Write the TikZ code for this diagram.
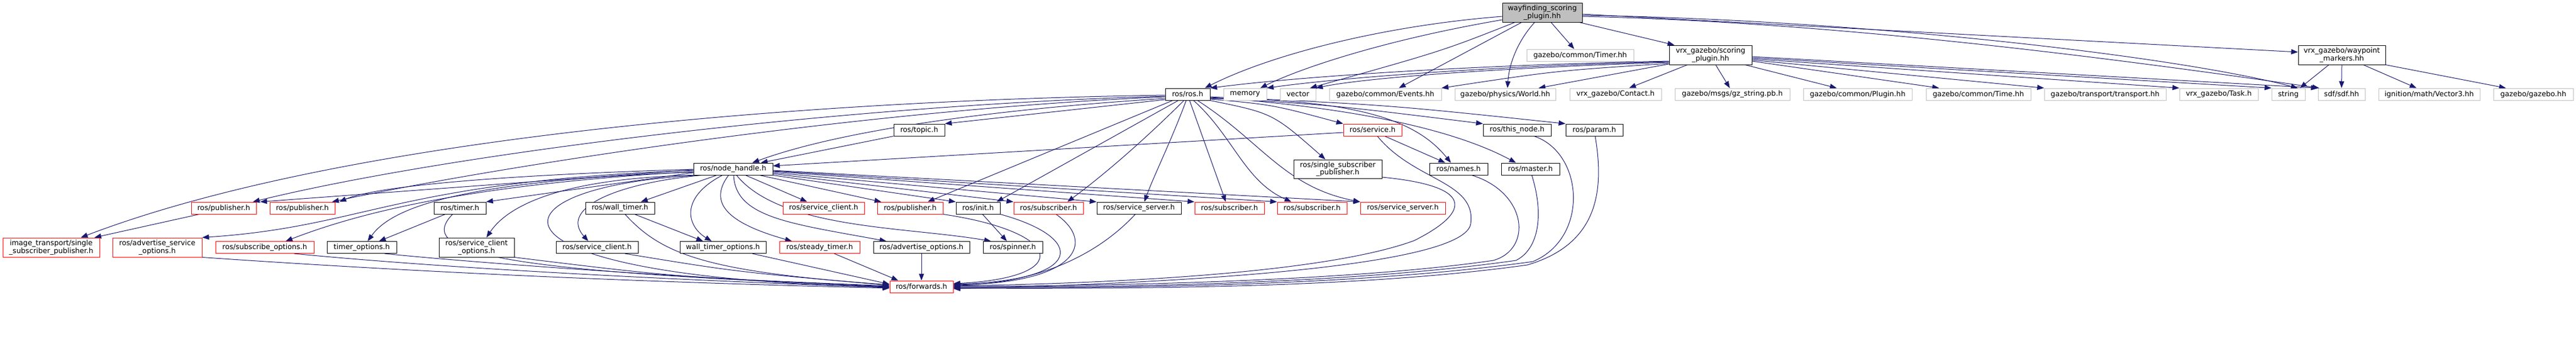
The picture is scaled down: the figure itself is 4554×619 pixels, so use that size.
\documentclass[tikz,border=0pt]{standalone}
\usepackage{fontspec}
\setmainfont{DejaVu Sans}
\usetikzlibrary{arrows.meta}
\pgfdeclarelayer{bg}
\pgfsetlayers{bg,main}
\definecolor{mblue}{HTML}{191970}
\definecolor{gsev}{HTML}{BFBFBF}
\newcommand\dxfont{\fontsize{12.7}{12.5}\selectfont}
\tikzset{
  box/.style={draw=black, line width=1pt, fill=white, inner sep=0pt, font=\dxfont, align=center, text=black},
  ext/.style={box, draw=gsev},
  trunc/.style={box, draw=red},
  root/.style={box, fill=gsev, draw=black},
  sz/.style 2 args={minimum width=#1pt, minimum height=#2pt},
  dep/.style={draw=mblue, line width=1pt, -{Triangle[length=12pt,width=9pt]}}
}
\begin{document}
\begin{tikzpicture}[x=1pt,y=-1pt]
\useasboundingbox (0,0) rectangle (4554,619);
% ---- nodes
\node[root,sz={141}{34}] (W) at (2726.5,22) {wayfinding\_scoring\\\_plugin.hh};
\node[ext,sz={189}{21}] (timerhh) at (2793.5,97.5) {gazebo/common/Timer.hh};
\node[box,sz={146}{34}] (S) at (3024,97) {vrx\_gazebo/scoring\\\_plugin.hh};
\node[box,sz={154}{34}] (M) at (4140,97) {vrx\_gazebo/waypoint\\\_markers.hh};
\node[box,sz={79}{21}] (R) at (2099.5,166.5) {ros/ros.h};
\node[ext,sz={76}{21}] (memory) at (2201,166.5) {memory};
\node[ext,sz={63}{21}] (vector) at (2294.5,166.5) {vector};
\node[ext,sz={198}{21}] (events) at (2449,166.5) {gazebo/common/Events.hh};
\node[ext,sz={178}{21}] (world) at (2661,166.5) {gazebo/physics/World.hh};
\node[ext,sz={162}{21}] (contact) at (2856,166.5) {vrx\_gazebo/Contact.h};
\node[ext,sz={203}{21}] (gzstring) at (3062.5,166.5) {gazebo/msgs/gz\_string.pb.h};
\node[ext,sz={192}{21}] (plugin) at (3284,166.5) {gazebo/common/Plugin.hh};
\node[ext,sz={185}{21}] (gztime) at (3497.5,166.5) {gazebo/common/Time.hh};
\node[ext,sz={215}{21}] (transport) at (3721.5,166.5) {gazebo/transport/transport.hh};
\node[ext,sz={139}{21}] (task) at (3922.5,166.5) {vrx\_gazebo/Task.h};
\node[ext,sz={59}{21}] (string) at (4045.5,166.5) {string};
\node[ext,sz={83}{21}] (sdf) at (4139.5,166.5) {sdf/sdf.hh};
\node[ext,sz={179}{21}] (vector3) at (4294.5,166.5) {ignition/math/Vector3.hh};
\node[ext,sz={141}{21}] (gazebohh) at (4478.5,166.5) {gazebo/gazebo.hh};
\node[box,sz={90}{21}] (topic) at (1625,229.5) {ros/topic.h};
\node[trunc,sz={103}{21}] (service) at (2426.5,229.5) {ros/service.h};
\node[box,sz={120}{21}] (thisnode) at (2682,229.5) {ros/this\_node.h};
\node[box,sz={101}{21}] (param) at (2818.5,229.5) {ros/param.h};
\node[box,sz={140}{21}] (N) at (1296,298.5) {ros/node\_handle.h};
\node[box,sz={156}{33}] (ssp) at (2365,298.5) {ros/single\_subscriber\\\_publisher.h};
\node[box,sz={103}{21}] (names) at (2578.5,298.5) {ros/names.h};
\node[box,sz={103}{21}] (master) at (2705.5,298.5) {ros/master.h};
\node[trunc,sz={115}{21}] (pubA) at (395.5,367.5) {ros/publisher.h};
\node[trunc,sz={115}{21}] (pubB) at (534.5,367.5) {ros/publisher.h};
\node[box,sz={92}{21}] (timer) at (813,367.5) {ros/timer.h};
\node[box,sz={122}{21}] (walltimer) at (1096,367.5) {ros/wall\_timer.h};
\node[trunc,sz={144}{21}] (svcclientR) at (1456,367.5) {ros/service\_client.h};
\node[trunc,sz={116}{21}] (pubC) at (1609,367.5) {ros/publisher.h};
\node[box,sz={78}{21}] (init) at (1729,367.5) {ros/init.h};
\node[trunc,sz={123}{21}] (subA) at (1853.5,367.5) {ros/subscriber.h};
\node[box,sz={149}{21}] (svcserver) at (2013.5,367.5) {ros/service\_server.h};
\node[trunc,sz={123}{21}] (subB) at (2173.5,367.5) {ros/subscriber.h};
\node[trunc,sz={123}{21}] (subC) at (2319.5,367.5) {ros/subscriber.h};
\node[trunc,sz={150}{21}] (svcserverR) at (2480,367.5) {ros/service\_server.h};
\node[trunc,sz={171}{34}] (imgtr) at (90.5,437) {image\_transport/single\\\_subscriber\_publisher.h};
\node[trunc,sz={158}{34}] (aso) at (278,437) {ros/advertise\_service\\\_options.h};
\node[trunc,sz={174}{21}] (subopt) at (468,437) {ros/subscribe\_options.h};
\node[box,sz={123}{21}] (timeropt) at (639.5,437) {timer\_options.h};
\node[box,sz={133}{34}] (sco) at (842.5,437) {ros/service\_client\\\_options.h};
\node[box,sz={145}{21}] (svcclient) at (1055.5,437) {ros/service\_client.h};
\node[box,sz={152}{21}] (wto) at (1278,437) {wall\_timer\_options.h};
\node[trunc,sz={142}{21}] (steady) at (1449,437) {ros/steady\_timer.h};
\node[box,sz={170}{21}] (advopt) at (1629,437) {ros/advertise\_options.h};
\node[box,sz={105}{21}] (spinner) at (1790.5,437) {ros/spinner.h};
\node[trunc,sz={112}{21}] (fwd) at (1629,506.5) {ros/forwards.h};
% ---- edges
\begin{pgfonlayer}{bg}
% wayfinding
\draw[dep] (W.west |- 0,29) .. controls (2450,45) and (2250,95) .. (R.north -| 2130,0);
\draw[dep] (W.west |- 0,35) .. controls (2450,70) and (2300,120) .. (memory.north -| 2228,0);
\draw[dep] (W.south -| 2678,0) .. controls (2550,90) .. (vector.north -| 2316,0);
\draw[dep] (W.south -| 2690,0) -- (events.north -| 2473,0);
\draw[dep] (W.south -| 2713,0) .. controls (2685,70) and (2668,110) .. (world.north -| 2665,0);
\draw[dep] (W.south -| 2742,0) -- (timerhh.north -| 2783,0);
\draw[dep] (W.south -| 2792,0) -- (S.north -| 2960,0);
\draw[dep] (W.east |- 0,25) -- (M.west |- 0,92);
\draw[dep] (W.east |- 0,27) .. controls (3300,35) and (3850,100) .. (string.north -| 4062,0);
\draw[dep] (W.east |- 0,29) .. controls (3300,40) and (3850,120) .. (sdf.north -| 4100,0);
% scoring plugin
\draw[dep] (S.west |- 0,108) .. controls (2600,115) and (2300,135) .. (R.north east);
\draw[dep] (S.west |- 0,109) .. controls (2600,118) and (2350,140) .. (memory.north east);
\draw[dep] (S.west |- 0,110) .. controls (2600,122) and (2400,140) .. (vector.north east);
\draw[dep] (S.west |- 0,112) .. controls (2750,125) .. (events.north east);
\draw[dep] (S.west |- 0,113) -- (world.north -| 2720,0);
\draw[dep] (S.south -| 2983,0) -- (contact.north -| 2880,0);
\draw[dep] (S.south -| 3033,0) -- (gzstring.north -| 3058,0);
\draw[dep] (S.south -| 3085,0) -- (plugin.north -| 3247,0);
\draw[dep] (S.east |- 0,108) -- (gztime.north -| 3428,0);
\draw[dep] (S.east |- 0,106) -- (transport.north west);
\draw[dep] (S.east |- 0,104) -- (task.north west);
\draw[dep] (S.east |- 0,102) -- (string.north west);
\draw[dep] (S.east |- 0,100) -- (sdf.north west);
% waypoint markers
\draw[dep] (M.south -| 4117,0) -- (string.north -| 4066,0);
\draw[dep] (M.south) -- (sdf.north);
\draw[dep] (M.south -| 4178,0) -- (vector3.north -| 4272,0);
\draw[dep] (M.south east) -- (gazebohh.north -| 4430,0);
% ros.h
\draw[dep] (R.west |- 0,168) .. controls (1400,178) and (600,245) .. (imgtr.north -| 143,0);
\draw[dep] (R.west |- 0,170) .. controls (1500,185) and (800,270) .. (pubA.north -| 447,0);
\draw[dep] (R.west |- 0,171) .. controls (1500,195) and (850,300) .. (pubB.north -| 587,0);
\draw[dep] (R.west |- 0,174) .. controls (1800,190) and (1500,225) .. (N.north -| 1330,0);
\draw[dep] (R.west |- 0,176) -- (topic.north east);
\draw[dep] (R.south -| 2073,0) -- (pubC.north -| 1640,0);
\draw[dep] (R.south -| 2083,0) -- (init.north -| 1762,0);
\draw[dep] (R.south -| 2093,0) .. controls (2020,250) and (1950,310) .. (subA.north -| 1887,0);
\draw[dep] (R.south -| 2097,0) .. controls (2070,250) and (2040,310) .. (svcserver.north -| 2023,0);
\draw[dep] (R.south -| 2103,0) -- (subB.north -| 2167,0);
\draw[dep] (R.south -| 2110,0) .. controls (2180,240) and (2200,320) .. (subC.north -| 2283,0);
\draw[dep] (R.south -| 2117,0) .. controls (2230,250) and (2270,330) .. (svcserverR.north west);
\draw[dep] (R.south east) .. controls (2250,200) .. (ssp.north -| 2343,0);
\draw[dep] (R.east |- 0,175) .. controls (2250,185) .. (service.north west);
\draw[dep] (R.east |- 0,174) .. controls (2420,175) and (2510,220) .. (names.north -| 2565,0);
\draw[dep] (R.east |- 0,173) .. controls (2350,185) .. (thisnode.north west);
\draw[dep] (R.east |- 0,172) .. controls (2470,195) and (2610,250) .. (master.north -| 2680,0);
\draw[dep] (R.east |- 0,171) .. controls (2450,185) .. (param.north west);
% service.h, topic.h
\draw[dep] (service.west |- 0,234) -- (N.east |- 0,293);
\draw[dep] (service.south -| 2448,0) -- (names.north -| 2555,0);
\draw[dep] (topic.south west) -- (N.north -| 1345,0);
% node_handle.h to the left
\draw[dep] (N.west |- 0,300) -- (pubA.north -| 460,0);
\draw[dep] (N.west |- 0,299) .. controls (800,312) and (650,335) .. (pubB.north -| 600,0);
\draw[dep] (N.west |- 0,301) .. controls (700,320) and (650,400) .. (aso.north east);
\draw[dep] (N.west |- 0,303) .. controls (850,325) and (650,370) .. (subopt.north -| 505,0);
\draw[dep] (N.west |- 0,304) .. controls (800,320) and (690,370) .. (timeropt.north -| 650,0);
\draw[dep] (N.west |- 0,305) -- (timer.north east);
\draw[dep] (N.south west) .. controls (1000,315) and (900,360) .. (sco.north -| 860,0);
\draw[dep] (N.south -| 1240,0) .. controls (1080,325) and (990,370) .. (svcclient.north -| 1040,0);
\draw[dep] (N.south -| 1235,0) .. controls (850,330) and (820,490) .. (fwd.west |- 0,507);
\draw[dep] (N.south -| 1267,0) -- (walltimer.north -| 1133,0);
\draw[dep] (N.south -| 1277,0) .. controls (1200,350) and (1215,400) .. (wto.north -| 1258,0);
\draw[dep] (N.south -| 1288,0) .. controls (1250,360) and (1290,395) .. (steady.north -| 1400,0);
\draw[dep] (N.south -| 1318,0) -- (svcclientR.north -| 1427,0);
\draw[dep] (N.south -| 1297,0) .. controls (1300,385) and (1400,395) .. (advopt.north -| 1567,0);
\draw[dep] (N.south -| 1302,0) .. controls (1380,405) and (1600,400) .. (spinner.north -| 1752,0);
\draw[dep] (N.south -| 1343,0) -- (pubC.north -| 1558,0);
% node_handle.h to the right
\draw[dep] (N.south east) -- (init.north west);
\draw[dep] (N.east |- 0,307) -- (subA.north west);
\draw[dep] (N.east |- 0,305) -- (svcserver.north west);
\draw[dep] (N.east |- 0,303) -- (subB.north west);
\draw[dep] (N.east |- 0,302) -- (subC.north west);
\draw[dep] (N.east |- 0,301) -- (svcserverR.north west);
% lower left
\draw[dep] (pubA.south -| 352,0) -- (imgtr.north -| 167,0);
\draw[dep] (timer.south -| 787,0) -- (timeropt.north -| 670,0);
\draw[dep] (walltimer.south -| 1122,0) -- (wto.north -| 1243,0);
\draw[dep] (init.south -| 1737,0) -- (spinner.north -| 1780,0);
% into forwards.h from the left
\draw[dep] (aso.south east) .. controls (800,485) and (1200,500) .. (fwd.west |- 0,509);
\draw[dep] (subopt.south -| 520,0) .. controls (800,475) and (1200,495) .. (fwd.west |- 0,508);
\draw[dep] (timeropt.south -| 680,0) .. controls (900,470) and (1300,495) .. (fwd.west |- 0,507);
\draw[dep] (timer.south -| 800,0) .. controls (730,450) and (900,480) .. (fwd.west |- 0,506);
\draw[dep] (sco.south east) .. controls (1200,490) .. (fwd.west |- 0,505);
\draw[dep] (svcclient.south -| 1105,0) .. controls (1300,480) .. (fwd.west |- 0,504);
\draw[dep] (walltimer.south -| 1105,0) .. controls (1170,450) and (1250,480) .. (fwd.west |- 0,503);
\draw[dep] (wto.south -| 1330,0) -- (fwd.west |- 0,502);
\draw[dep] (steady.south -| 1475,0) -- (fwd.north -| 1588,0);
\draw[dep] (advopt.south) -- (fwd.north);
% into forwards.h from the right
\draw[dep] (pubC.south east) .. controls (1880,410) and (1900,490) .. (fwd.east |- 0,501);
\draw[dep] (init.south east) .. controls (1920,420) and (1920,495) .. (fwd.east |- 0,502);
\draw[dep] (subA.south -| 1867,0) .. controls (1940,430) and (1900,500) .. (fwd.east |- 0,503);
\draw[dep] (svcserver.south -| 2007,0) .. controls (1950,440) and (1850,500) .. (fwd.east |- 0,504);
\draw[dep] (ssp.east |- 0,313) .. controls (2620,330) and (2590,380) .. (2500,425) .. controls (2350,480) and (2000,500) .. (fwd.east |- 0,505);
\draw[dep] (names.south -| 2602,0) .. controls (2700,340) and (2710,440) .. (2640,460) .. controls (2400,495) and (2000,505) .. (fwd.east |- 0,506);
\draw[dep] (master.south -| 2708,0) .. controls (2730,380) and (2720,440) .. (2680,460) .. controls (2400,500) and (2000,508) .. (fwd.east |- 0,507);
\draw[dep] (thisnode.south -| 2712,0) .. controls (2800,270) and (2810,420) .. (2710,462) .. controls (2400,505) and (2000,509) .. (fwd.east |- 0,508);
\draw[dep] (param.south -| 2820,0) .. controls (2835,330) and (2830,430) .. (2700,468) .. controls (2400,510) and (2000,510) .. (fwd.east |- 0,509);
\draw[dep] (service.south -| 2435,0) .. controls (2500,320) and (2610,320) .. (2600,395) .. controls (2590,470) and (2100,500) .. (fwd.east |- 0,510);
\end{pgfonlayer}
\end{tikzpicture}
\end{document}
